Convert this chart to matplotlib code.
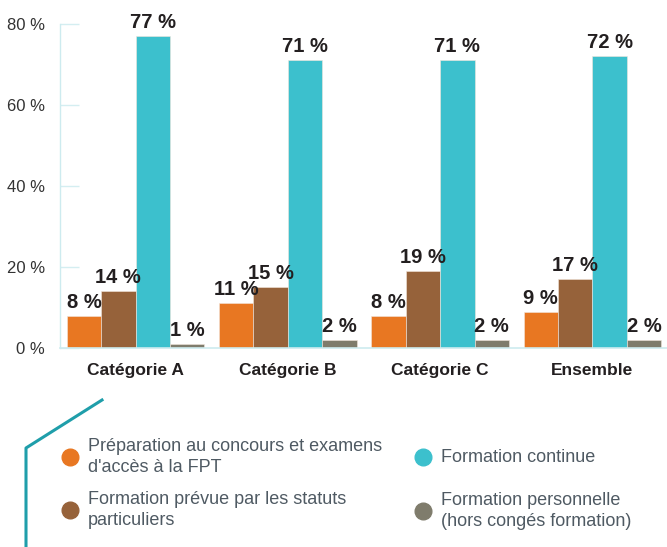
import numpy as np
import matplotlib
matplotlib.use("Agg")
from matplotlib import pyplot as plt
from matplotlib.lines import Line2D

plt.rcParams.update({
    "font.family": ["Liberation Sans", "DejaVu Sans"],
})

categories = ["Catégorie A", "Catégorie B", "Catégorie C", "Ensemble"]
series_names = [
    "Préparation au concours et examens\nd'accès à la FPT",
    "Formation prévue par les statuts\nparticuliers",
    "Formation continue",
    "Formation personnelle\n(hors congés formation)",
]
prep = [8, 11, 8, 9]
statuts = [14, 15, 19, 17]
continue_ = [77, 71, 71, 72]
perso = [1, 2, 2, 2]
colors = ["#E87722", "#96623A", "#3CC0CD", "#7F7C6C"]
yticks = [0, 20, 40, 60, 80]

values = [prep, statuts, continue_, perso]

fig = plt.figure(figsize=(6.67, 5.47), dpi=100)
ax = fig.add_axes([60 / 667, 1 - 348 / 547, 607 / 667, 324 / 547])

x = np.arange(len(categories))
width = 0.226
for i, (vals, col) in enumerate(zip(values, colors)):
    pos = x + (i - 1.5) * width
    ax.bar(pos, vals, width, color=col, edgecolor="#f2e6dc", linewidth=0.4)
    for px_, v in zip(pos, vals):
        ax.text(px_, v + 1.0, f"{v} %", ha="center", va="bottom",
                fontsize=14.5, fontweight="bold", color="#231f20")

ax.set_xlim(-0.496, 3.49)
ax.set_ylim(0, 80)
ax.set_yticks(yticks)
ax.set_yticklabels([f"{t} %" for t in yticks], fontsize=12, color="#333333")
ax.set_xticks(x)
ax.set_xticklabels(categories, fontsize=12.5, fontweight="bold", color="#231f20")
ax.tick_params(axis="x", length=0, pad=11)
ax.tick_params(axis="y", direction="in", length=14, color="#d4eef1", pad=11, width=1)
for side in ["top", "right"]:
    ax.spines[side].set_visible(False)
ax.spines["left"].set_color("#cdebef")
ax.spines["bottom"].set_color("#cdebef")
ax.spines["left"].set_linewidth(1)
ax.spines["bottom"].set_linewidth(1.2)

# decorative line
fig.add_artist(Line2D([102 / 667, 26 / 667, 26 / 667],
                      [1 - 400 / 547, 1 - 448 / 547, 0],
                      color="#1F9EAA", linewidth=2.2))

# legend
legend_pos = [(70, 457), (70, 510), (423, 457), (423, 511)]
for (lx, ly), name, col in zip(legend_pos, series_names, colors):
    fig.add_artist(Line2D([lx / 667], [1 - ly / 547], marker="o", markersize=12,
                          color=col, linestyle="none"))
    fig.text((lx + 18) / 667, 1 - ly / 547, name, ha="left", va="center",
             fontsize=13, color="#4f5a63", linespacing=1.3)

fig.savefig("out.png", dpi=100)
